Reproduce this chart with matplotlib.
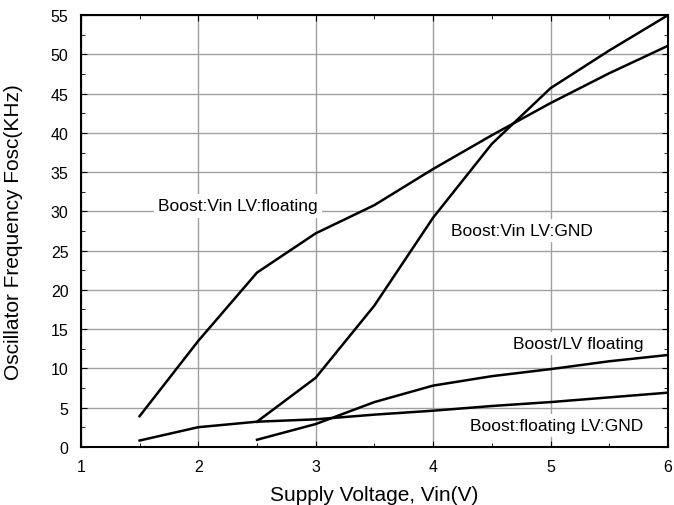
import matplotlib
matplotlib.use("Agg")
import matplotlib.pyplot as plt
from matplotlib.ticker import MultipleLocator

plt.rcParams['font.family'] = ['Liberation Sans', 'DejaVu Sans']

# ---------- data ----------
vin_a = [1.5, 2.0, 2.5, 3.0, 3.5, 4.0, 4.5, 5.0, 5.5, 6.0]
fosc_vin_lv_floating = [3.9, 13.5, 22.2, 27.2, 30.8, 35.4, 39.7, 43.8, 47.6, 51.1]
fosc_floating_lv_gnd = [0.8, 2.5, 3.2, 3.5, 4.1, 4.6, 5.2, 5.7, 6.3, 6.9]

vin_b = [2.5, 3.0, 3.5, 4.0, 4.5, 5.0, 5.5, 6.0]
fosc_vin_lv_gnd = [3.2, 8.8, 18.0, 29.2, 38.6, 45.7, 50.5, 55.0]
fosc_boost_lv_floating = [0.9, 2.9, 5.7, 7.8, 9.0, 9.9, 10.9, 11.7]

labels = ["Boost:Vin LV:floating", "Boost:Vin LV:GND",
          "Boost/LV floating", "Boost:floating LV:GND"]
label_pos = [(2.34, 30.7), (4.76, 27.6), (5.24, 13.2), (5.05, 2.7)]

fig = plt.figure(figsize=(6.74, 5.06), dpi=100)
ax = fig.add_axes([0.120, 0.115, 0.871, 0.853])

for x, y in [(vin_a, fosc_vin_lv_floating), (vin_b, fosc_vin_lv_gnd),
             (vin_b, fosc_boost_lv_floating), (vin_a, fosc_floating_lv_gnd)]:
    ax.plot(x, y, color='black', lw=1.8, zorder=2)

for txt, (x, y) in zip(labels, label_pos):
    ax.text(x, y, txt, ha='center', va='center', fontsize=12.5, zorder=1,
            bbox=dict(facecolor='white', edgecolor='none', pad=3))

ax.set_xlim(1, 6)
ax.set_ylim(0, 55)
ax.xaxis.set_major_locator(MultipleLocator(1))
ax.xaxis.set_minor_locator(MultipleLocator(0.5))
ax.yaxis.set_major_locator(MultipleLocator(5))
ax.yaxis.set_minor_locator(MultipleLocator(2.5))
ax.tick_params(which='both', direction='in', top=True, right=True, labelsize=11.5)
ax.tick_params(which='major', length=4)
ax.tick_params(which='minor', length=3)
ax.tick_params(axis='x', pad=9)
ax.tick_params(axis='y', pad=9)
ax.set_axisbelow(True)
ax.grid(True, which='major', color='#a0a0a0', lw=1)
for s in ax.spines.values():
    s.set_linewidth(1.5)

ax.set_xlabel('Supply Voltage, Vin(V)', fontsize=15, labelpad=8)
ax.set_ylabel('Oscillator Frequency Fosc(KHz)', fontsize=15, labelpad=20)

fig.savefig('out.png', dpi=100)
